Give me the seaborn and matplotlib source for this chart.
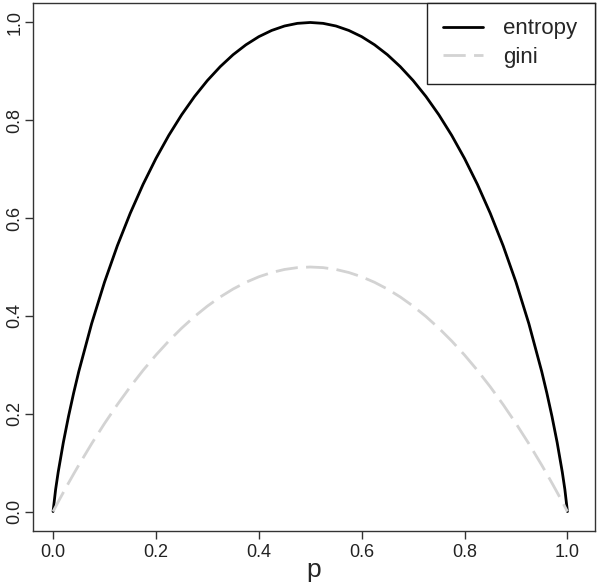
import pandas as pd
import seaborn as sns
import matplotlib
matplotlib.use("Agg")
import matplotlib.pyplot as plt

# values
p = [0.0, 0.005, 0.01, 0.02, 0.03, 0.04, 0.05, 0.075, 0.1, 0.125, 0.15, 0.175, 0.2,
     0.225, 0.25, 0.275, 0.3, 0.325, 0.35, 0.375, 0.4, 0.425, 0.45, 0.475, 0.5,
     0.525, 0.55, 0.575, 0.6, 0.625, 0.65, 0.675, 0.7, 0.725, 0.75, 0.775, 0.8,
     0.825, 0.85, 0.875, 0.9, 0.925, 0.95, 0.96, 0.97, 0.98, 0.99, 0.995, 1.0]
entropy = [0.0, 0.0454, 0.0808, 0.1414, 0.1944, 0.2423, 0.2864, 0.3843, 0.4690, 0.5436,
           0.6098, 0.6690, 0.7219, 0.7692, 0.8113, 0.8486, 0.8813, 0.9097, 0.9341,
           0.9544, 0.9710, 0.9837, 0.9928, 0.9982, 1.0,
           0.9982, 0.9928, 0.9837, 0.9710, 0.9544, 0.9341, 0.9097, 0.8813, 0.8486,
           0.8113, 0.7692, 0.7219, 0.6690, 0.6098, 0.5436, 0.4690, 0.3843, 0.2864,
           0.2423, 0.1944, 0.1414, 0.0808, 0.0454, 0.0]
gini = [0.0, 0.00995, 0.0198, 0.0392, 0.0582, 0.0768, 0.095, 0.13875, 0.18, 0.21875,
        0.255, 0.28875, 0.32, 0.34875, 0.375, 0.39875, 0.42, 0.43875, 0.455, 0.46875,
        0.48, 0.48875, 0.495, 0.49875, 0.5,
        0.49875, 0.495, 0.48875, 0.48, 0.46875, 0.455, 0.43875, 0.42, 0.39875, 0.375,
        0.34875, 0.32, 0.28875, 0.255, 0.21875, 0.18, 0.13875, 0.095, 0.0768, 0.0582,
        0.0392, 0.0198, 0.00995, 0.0]
ticks = [0.0, 0.2, 0.4, 0.6, 0.8, 1.0]
tick_labels = ["0.0", "0.2", "0.4", "0.6", "0.8", "1.0"]

df = pd.DataFrame({"p": p, "entropy": entropy, "gini": gini})
long = df.melt(id_vars="p", var_name="measure", value_name="value")

sns.set_style("ticks")
plt.rcParams["font.family"] = ["Liberation Sans", "DejaVu Sans"]

fig = plt.figure(figsize=(6, 5.83), dpi=100)
ax = fig.add_axes([0.055, 0.089, 0.937, 0.906])

sns.lineplot(data=long, x="p", y="value", hue="measure", style="measure",
             palette={"entropy": "black", "gini": "#d3d3d3"},
             dashes={"entropy": "", "gini": (8, 3)},
             linewidth=2.0, ax=ax, sort=False)

ax.set_xlim(-0.039, 1.054)
ax.set_ylim(-0.04, 1.04)
ax.set_xticks(ticks)
ax.set_yticks(ticks)
ax.set_xticklabels(tick_labels, fontsize=13, color="#222222")
ax.set_yticklabels(tick_labels, fontsize=13, color="#222222", rotation=90, va="center")
ax.tick_params(direction="out", length=6, width=1, color="#333333")
ax.tick_params(axis="x", pad=3)
ax.tick_params(axis="y", pad=1)
for s in ax.spines.values():
    s.set_visible(True)
    s.set_color("#333333")
    s.set_linewidth(1)

ax.set_xlabel("p", fontsize=19, va="center")
ax.xaxis.set_label_coords(0.5, -0.073)
ax.set_ylabel("")

# legend box flush with the top right corner
leg = ax.legend(loc="upper left", bbox_to_anchor=(0.701, 0, 0.299, 1), mode="expand",
                borderaxespad=0, fancybox=False, framealpha=1, edgecolor="#222222",
                fontsize=16, handlelength=1.8, borderpad=0.7, labelspacing=0.35,
                handletextpad=0.9)
leg.get_frame().set_linewidth(1)

fig.savefig("out.png", dpi=100)
